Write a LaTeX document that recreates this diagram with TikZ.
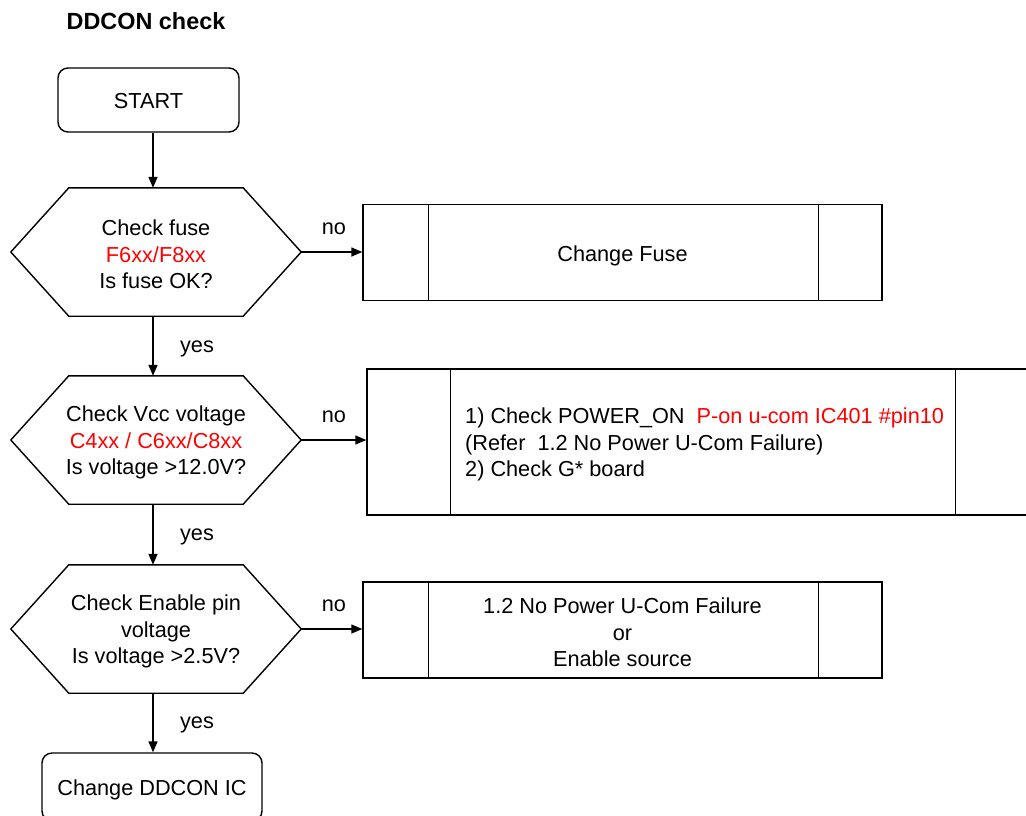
\documentclass[tikz,border=0pt]{standalone}
\usepackage{fontspec}
\setmainfont{Liberation Sans}
\usetikzlibrary{arrows.meta}
\newcommand\myfs{\fontsize{21.7}{26.5}\selectfont}
\begin{document}
\begin{tikzpicture}[x=1pt,y=-1pt,
  ln/.style={line width=1.4pt,black},
  arr/.style={ln,-{Triangle[length=11pt,width=9pt]}},
  term/.style={draw,line width=1.4pt,rounded corners=10pt,inner sep=0pt},
  dec/.style={inner sep=0pt,minimum width=290pt,minimum height=128pt},
  proc/.style={draw,line width=1.4pt,inner sep=0pt},
  txt/.style={font=\myfs,align=center,inner sep=0pt},
  lbl/.style={font=\myfs,inner sep=0pt}]
\path[use as bounding box,clip] (0,0) rectangle (1026,815);
\coordinate (ax) at (153,0);

\node[font=\fontsize{23.4}{28}\selectfont\bfseries,inner sep=0pt] (title) at (146,21) {DDCON check};

\node[term,minimum width=181pt,minimum height=64pt] (start) at (148.5,100) {};
\node[txt] (startt) at ([yshift=-1.5pt]start.center) {START};

\node[dec] (h1) at (156,252) {};
\node[dec] (h2) at (156,440) {};
\node[dec] (h3) at (156,629) {};
\foreach \h in {h1,h2,h3}{
  \draw[ln] (\h.west) -- ([xshift=58pt]\h.north west) -- ([xshift=-58pt]\h.north east)
    -- (\h.east) -- ([xshift=-58pt]\h.south east) -- ([xshift=58pt]\h.south west) -- cycle;
}
\node[txt] (h1t) at ([yshift=-2.5pt]h1.center) {Check fuse\\\textcolor{red}{F6xx/F8xx}\\Is fuse OK?};
\node[txt] (h2t) at ([yshift=-2.5pt]h2.center) {Check Vcc voltage\\\textcolor{red}{C4xx / C6xx/C8xx}\\Is voltage >12.0V?};
\node[txt] (h3t) at ([yshift=-2.5pt]h3.center) {Check Enable pin\\voltage\\Is voltage >2.5V?};

\node[proc,minimum width=519pt,minimum height=96pt] (b1) at (622.5,252.5) {};
\draw[ln] ([xshift=66pt]b1.north west) -- ([xshift=66pt]b1.south west);
\draw[ln] ([xshift=-64pt]b1.north east) -- ([xshift=-64pt]b1.south east);
\node[txt] (b1t) at ([yshift=-3pt]b1.center) {Change Fuse};

\node[proc,minimum width=672pt,minimum height=146pt] (b2) at (703,442) {};
\draw[ln] ([xshift=84pt]b2.north west) -- ([xshift=84pt]b2.south west);
\draw[ln] ([xshift=-84pt]b2.north east) -- ([xshift=-84pt]b2.south east);
\node[font=\myfs,align=left,anchor=west,inner sep=0pt] (t2) at (465,444.5)
  {1) Check POWER\_ON\ \ \textcolor{red}{P-on u-com IC401 \#pin10}\\(Refer\ \ 1.2 No Power U-Com Failure)\\2) Check G* board};

\node[proc,minimum width=519pt,minimum height=96pt] (b3) at (622.5,630) {};
\draw[ln] ([xshift=66pt]b3.north west) -- ([xshift=66pt]b3.south west);
\draw[ln] ([xshift=-64pt]b3.north east) -- ([xshift=-64pt]b3.south east);
\node[txt] (b3t) at ([yshift=-2.5pt]b3.center) {1.2 No Power U-Com Failure\\or\\Enable source};

\node[term,minimum width=220pt,minimum height=68pt] (end) at (152,787) {};
\node[txt] (endt) at ([yshift=-3pt]end.center) {Change DDCON IC};

\draw[arr] (start.south -| ax) -- (h1.north -| ax);
\draw[arr] (h1.south -| ax) -- (h2.north -| ax);
\draw[arr] (h2.south -| ax) -- (h3.north -| ax);
\draw[arr] (h3.south -| ax) -- (end.north -| ax);
\draw[arr] (h1.east) -- (h1.east -| b1.west);
\draw[arr] (h2.east) -- (h2.east -| b2.west);
\draw[arr] (h3.east) -- (h3.east -| b3.west);

\node[lbl] (no1) at (334,229) {no};
\node[lbl] (no2) at (334,417) {no};
\node[lbl] (no3) at (334,606) {no};
\node[lbl] (yes1) at (197,349) {yes};
\node[lbl] (yes2) at (197,537) {yes};
\node[lbl] (yes3) at (197,725) {yes};
\end{tikzpicture}
\end{document}
